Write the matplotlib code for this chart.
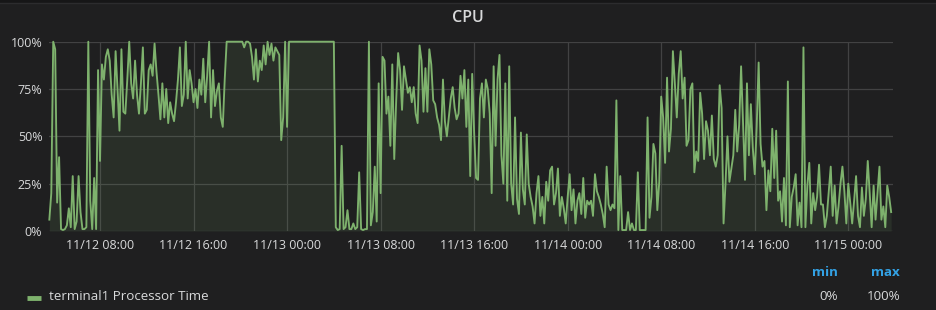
import matplotlib
matplotlib.use("Agg")
import matplotlib.pyplot as plt
import matplotlib.dates as mdates
import numpy as np
import pandas as pd

# ---- data: CPU % sampled every 10 minutes, starting 11/12 03:40 ----
start_time = "2018-11-12 03:40"
step_minutes = 10

cpu_1112 = [6, 20, 100, 96, 15, 39, 1, 0.5, 1, 3, 12, 2, 29, 1, 5, 29, 10, 1, 1, 2,
            100, 16, 1, 28, 1, 85, 37, 88,
            80, 92, 96, 90, 72, 60, 95, 75, 53, 96, 63, 62, 80, 100, 78, 70, 90, 72,
            62, 78, 97, 62, 64, 85, 88, 82, 99, 84, 72, 59, 78, 60, 75, 57, 68, 62,
            58, 68, 80, 97, 66, 72, 100, 70, 85, 78, 68,
            75, 65, 80, 72, 91, 68, 82, 100, 60, 85, 66, 74, 78, 60, 55, 80, 100,
            100, 100, 100, 100, 100, 100, 100, 100,
            97, 100, 100, 99, 92, 80, 96, 79, 90, 85, 98, 88, 100, 93, 99, 90, 97,
            95, 93, 48, 60, 100]

cpu_1113 = [55, 100,
            100, 100, 100, 100, 100, 100, 100, 100, 100, 100, 100, 100, 100, 100, 100,
            100, 100, 100, 100, 100, 100, 100, 100,
            2, 0.5, 1, 45, 1, 2, 11, 1, 1, 4, 1, 2, 31, 1, 0.5, 1, 1, 100, 3, 10, 34,
            5, 78, 20, 92, 90, 62, 71, 45, 88, 38, 69, 94, 85, 64, 87, 80, 73, 76, 68,
            76, 62, 57, 98, 90, 63, 86, 63, 96, 88, 69, 67, 60, 56, 48, 80, 58, 50, 60,
            70, 76, 65, 59, 62, 82, 70, 85, 55, 80, 29, 83, 52, 28,
            27, 70, 78, 60, 80, 75, 62, 20, 87, 45, 80, 93, 40, 25, 78, 16, 87, 25, 14,
            60, 17, 9, 52, 22, 14, 51, 25, 18, 13, 4, 20, 29, 8, 18, 4, 26, 16, 32, 34,
            14, 20, 33, 8, 18, 12, 4]

cpu_1114 = [18, 30, 11, 22, 4, 16, 20, 9, 28, 7, 16, 14, 16, 8, 30, 21, 18, 14, 9, 2,
            34, 14, 11, 14, 12, 69, 0.5, 29, 0.5, 0.5, 0.5, 10, 0.5, 4, 0.5, 0.5, 31,
            0.5, 0.5, 0.5, 0.5, 60, 7, 18, 46, 41, 11, 26, 71, 60, 36, 81, 42, 54, 95,
            78, 60, 83, 95, 70, 81, 45, 48, 75, 78, 31, 42, 37, 73, 62, 38, 58, 53, 40,
            61, 38, 34, 40, 77, 65, 4, 25, 50, 26, 33, 40, 64, 42, 56, 87, 57, 27, 78,
            40, 67, 44, 30, 55, 89, 46, 34, 37, 11, 32, 21, 54, 28, 53, 16, 21, 5, 28,
            3, 79, 2, 18, 23, 30, 3, 15, 2, 97, 2, 24, 36, 4, 20, 11, 18, 35, 14, 14, 2,
            8, 21, 34, 8, 24, 4, 13, 25, 34, 21, 4]

cpu_1115 = [25, 15, 4, 16, 29, 8, 2, 23, 8, 17, 37, 20, 2, 24, 6, 20, 34, 6, 13, 2,
            24, 18, 10]

y_ticks = [0, 25, 50, 75, 100]
y_tick_labels = ["0%", "25%", "50%", "75%", "100%"]
series_name = "terminal1 Processor Time"
legend_columns = ["min", "max"]
legend_values = ["0%", "100%"]
title = "CPU"

# ---- build series ----
values = np.array(cpu_1112 + cpu_1113 + cpu_1114 + cpu_1115, dtype=float)
times = pd.date_range(start_time, periods=len(values), freq=f"{step_minutes}min")

BG = "#1f1f20"
LINE = "#7eb26d"
GRID = "#424243"
TXT = "#d8d9da"
BLUE = "#33a2e5"

W, H = 937, 310
fig = plt.figure(figsize=(W / 100, H / 100), dpi=100, facecolor=BG)
plt.rcParams["font.family"] = ["Open Sans", "DejaVu Sans"]

# thin top strip
fig.add_artist(plt.Rectangle((0, 1 - 2.5 / H), 1, 2.5 / H, transform=fig.transFigure,
                             color="#161617", lw=0))
fig.add_artist(plt.Line2D([0, 1], [1 - 3 / H, 1 - 3 / H], transform=fig.transFigure,
                          color="#2c2c2e", lw=1.0))

left_px, right_px, top_px, bot_px = 49.3, 892.7, 41.7, 231.0
ax = fig.add_axes([left_px / W, 1 - bot_px / H, (right_px - left_px) / W, (bot_px - top_px) / H])
ax.set_facecolor(BG)

ax.fill_between(times, 0, values, color=LINE, alpha=0.11, lw=0)
ax.plot(times, values, color=LINE, lw=1.35, clip_on=False)

ax.set_ylim(0, 100)
ax.set_xlim(pd.Timestamp("2018-11-12 03:39:48"), pd.Timestamp("2018-11-15 03:48"))

ax.set_yticks(y_ticks)
ax.set_yticklabels(y_tick_labels)
ax.xaxis.set_major_locator(mdates.HourLocator(byhour=[0, 8, 16]))
ax.xaxis.set_major_formatter(mdates.DateFormatter("%m/%d %H:%M"))

ax.grid(True, color=GRID, lw=0.9)
ax.set_axisbelow(True)
for s in ax.spines.values():
    s.set_visible(False)
ax.tick_params(axis="both", length=0, colors=TXT, labelsize=9)
ax.tick_params(axis="y", pad=5)
ax.tick_params(axis="x", pad=6)

# title
fig.text(468 / W, 1 - 18 / H, title, ha="center", va="center", color=TXT,
         fontsize=11.5, fontweight="semibold")

# legend
fig.add_artist(plt.Line2D([27 / W, 41 / W], [1 - 298 / H, 1 - 298 / H], transform=fig.transFigure,
                          color=LINE, lw=3.5, solid_capstyle="butt"))
fig.text(49 / W, 1 - 297 / H, series_name, ha="left", va="center", color=TXT, fontsize=9.6)
for col, val, xr in zip(legend_columns, legend_values, [838, 900]):
    fig.text(xr / W, 1 - 273 / H, col, ha="right", va="center", color=BLUE,
             fontsize=9.6, fontweight="bold")
    fig.text(xr / W, 1 - 297 / H, val, ha="right", va="center", color=TXT, fontsize=9.6)

fig.savefig("out.png", dpi=100, facecolor=BG)
